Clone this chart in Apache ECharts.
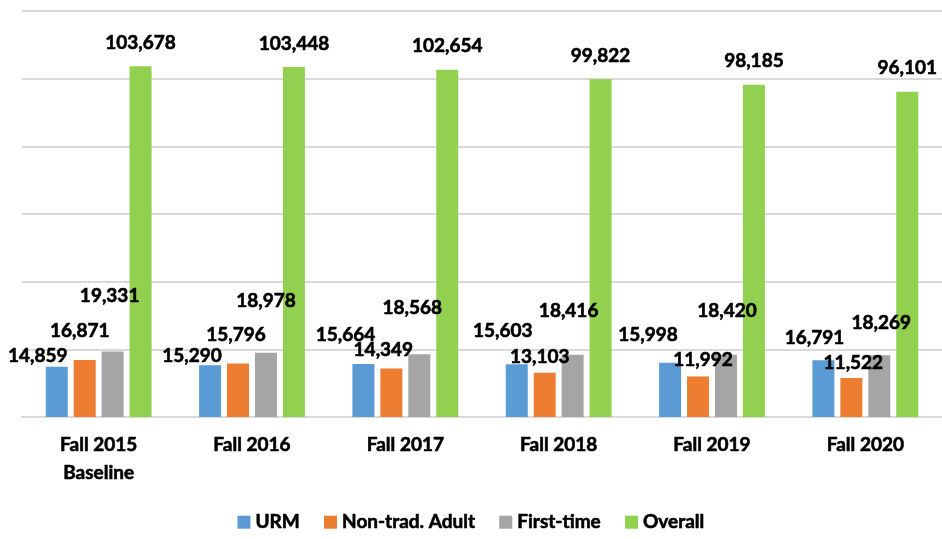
<!DOCTYPE html>
<html>
<head>
<meta charset="utf-8">
<script src="https://cdn.jsdelivr.net/npm/echarts@6/dist/echarts.min.js"></script>
<style>
  html, body { margin: 0; padding: 0; background: #fff; }
  #chart { width: 942px; height: 539px; }
</style>
</head>
<body>
<div id="chart"></div>
<script>
// categories and values
const categories = ['Fall 2015\nBaseline', 'Fall 2016', 'Fall 2017', 'Fall 2018', 'Fall 2019', 'Fall 2020'];
const urm = [14859, 15290, 15664, 15603, 15998, 16791];
const nonTradAdult = [16871, 15796, 14349, 13103, 11992, 11522];
const firstTime = [19331, 18978, 18568, 18416, 18420, 18269];
const overall = [103678, 103448, 102654, 99822, 98185, 96101];

// the labels were dragged around by hand in the original, so nudge them per bar
const urmNudge = [[-19, -1], [-18, 0], [-18, -20], [-14, -24], [-22, -18], [-9, -13]];
const adultNudge = [[-5, -20], [-2, -19], [-8, -9], [-5, -6], [5, -7], [2, -6]];
const firstNudge = [[-3, -46], [0, -42], [-7, -37], [-4, -34], [1, -34], [2, -23]];

const FONT = 'Lato';
// Lato bold is a bit lighter than the original font, thicken it slightly
const heavy = { textBorderColor: '#000', textBorderWidth: 0.6 };

function withNudge(values, nudges) {
  return values.map((v, i) => ({
    value: v,
    label: { offset: nudges ? nudges[i] : [0, -14] }
  }));
}

function makeSeries(name, values, color, nudges) {
  return {
    name: name,
    type: 'bar',
    barWidth: 22,
    barGap: '27%',
    itemStyle: { color: color },
    label: Object.assign({
      show: true,
      position: 'top',
      distance: 0,
      color: '#000',
      fontFamily: FONT,
      fontWeight: 'bold',
      fontSize: 19,
      formatter: p => p.value.toLocaleString('en-US')
    }, heavy),
    data: withNudge(values, nudges)
  };
}

const chart = echarts.init(document.getElementById('chart'));

const option = {
  animation: false,
  backgroundColor: '#fff',
  grid: { left: 22, top: 11, width: 924, height: 406 },
  legend: {
    bottom: 2,
    left: 'center',
    itemWidth: 13,
    itemHeight: 13,
    itemGap: 24,
    icon: 'rect',
    textStyle: Object.assign({ fontFamily: FONT, fontWeight: 'bold', fontSize: 19, color: '#000' }, heavy),
    data: ['URM', 'Non-trad. Adult', 'First-time', 'Overall']
  },
  xAxis: {
    type: 'category',
    data: categories,
    axisLine: { lineStyle: { color: '#d9d9d9', width: 2 } },
    axisTick: { show: false },
    axisLabel: Object.assign({
      margin: 14,
      color: '#000',
      fontFamily: FONT,
      fontWeight: 'bold',
      fontSize: 19,
      lineHeight: 28
    }, heavy)
  },
  yAxis: {
    type: 'value',
    min: 0,
    max: 120000,
    interval: 20000,
    axisLabel: { show: false },
    axisLine: { show: false },
    axisTick: { show: false },
    splitLine: { lineStyle: { color: '#d9d9d9', width: 2 } }
  },
  series: [
    makeSeries('URM', urm, '#5B9BD5', urmNudge),
    makeSeries('Non-trad. Adult', nonTradAdult, '#ED7D31', adultNudge),
    makeSeries('First-time', firstTime, '#A5A5A5', firstNudge),
    makeSeries('Overall', overall, '#92D050', null)
  ]
};

chart.setOption(option);
</script>
</body>
</html>
